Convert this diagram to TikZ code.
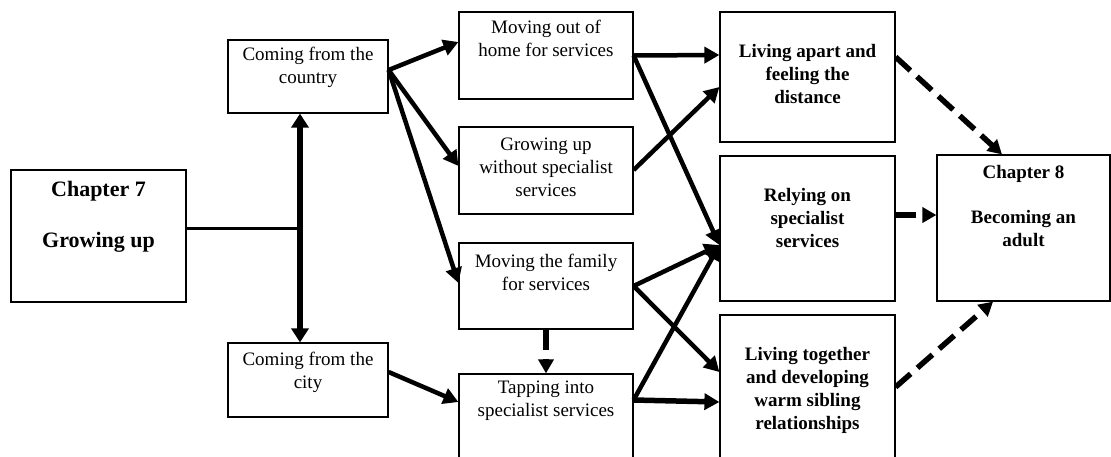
\documentclass[tikz,border=0pt]{standalone}
\usepackage{fontspec}
\setmainfont{Liberation Serif}
\usetikzlibrary{arrows.meta,fit}
\begin{document}
\begin{tikzpicture}[x=1pt,y=-1pt,
  box/.style={draw, line width=1.2pt, inner sep=0pt},
  txt/.style={align=center, inner sep=0pt, font=\fontsize{19}{23}\selectfont},
  btxt/.style={align=center, inner sep=0pt, font=\fontsize{19}{23}\selectfont\bfseries},
  flow/.style={line width=4.5pt, -{Triangle[length=15pt,width=16pt]}},
  dashflow/.style={line width=5.5pt, dash pattern=on 20pt off 9pt, -{Triangle[length=14pt,width=15pt]}},
]
\useasboundingbox (0,0) rectangle (1111,456);

% boxes
\node[box, fit={(11,170) (186,302)}] (ch7) {};
\node[box, fit={(228,40) (388,113)}] (country) {};
\node[box, fit={(228,343) (388,417)}] (city) {};
\node[box, fit={(459,12) (633,99)}] (mo) {};
\node[box, fit={(459,127) (633,214)}] (gu) {};
\node[box, fit={(459,243) (633,329)}] (mf) {};
\node[box, fit={(459,374) (633,462)}] (tap) {};
\node[box, fit={(720,12) (895,142)}] (apart) {};
\node[box, fit={(720,156) (895,301)}] (rely) {};
\node[box, fit={(720,315) (895,462)}] (together) {};
\node[box, fit={(937,155) (1110,301)}] (ch8) {};

% labels
\node[btxt, font=\fontsize{22}{25}\selectfont\bfseries] (ch7t) at (98.5,216.5) {Chapter 7\\[26pt]Growing up};
\node[txt] (countryt) at (308,67) {Coming from the\\country};
\node[txt] (cityt) at (308,372.5) {Coming from the\\city};
\node[txt] (mot) at (546,38.5) {Moving out of\\home for services};
\node[txt] (gut) at (546,167) {Growing up\\without specialist\\services};
\node[txt] (mft) at (546,272) {Moving the family\\for services};
\node[txt] (tapt) at (546,401) {Tapping into\\specialist services};
\node[btxt] (apartt) at (807.5,74) {Living apart and\\feeling the\\distance};
\node[btxt] (relyt) at (807.5,218) {Relying on\\specialist\\services};
\node[btxt] (togethert) at (807.5,390) {Living together\\and developing\\warm sibling\\relationships};
\node[btxt] (ch8t) at (1023.5,206.5) {Chapter 8\\[22pt]Becoming an\\adult};

% branching from chapter 7
\coordinate (hub) at (300,228);
\draw[line width=3pt] ([yshift=8pt]ch7.east) -- (hub);
\draw[line width=5.5pt, {Triangle[length=14pt,width=17pt]}-{Triangle[length=14pt,width=17pt]}]
  ([xshift=-8pt]country.south) -- ([xshift=-8pt]city.north);

% first column of arrows
\draw[flow] ([yshift=6.5pt]country.east) -- ([yshift=13.5pt]mo.west);
\draw[flow] ([yshift=6.5pt]country.east) -- ([yshift=4.5pt]gu.west);
\draw[flow] ([yshift=6.5pt]country.east) -- ([yshift=3pt]mf.west);
\draw[flow] ([yshift=8pt]city.east) -- ([yshift=16pt]tap.west);
\draw[dashflow] (mf.south) -- (tap.north);

% second column of arrows
\draw[flow] (mo.east) -- ([yshift=22pt]apart.west);
\draw[flow] (mo.east) -- ([yshift=-16.5pt]rely.west);
\draw[flow] ([yshift=0.5pt]gu.east) -- ([yshift=-10pt]apart.west);
\draw[flow] (mf.east) -- ([yshift=-16.5pt]rely.west);
\draw[flow] (mf.east) -- ([yshift=16.5pt]together.west);
\draw[flow] ([yshift=18pt]tap.east) -- ([yshift=-16.5pt]rely.west);
\draw[flow, line width=5.5pt] ([yshift=18pt]tap.east) -- ([yshift=-13.5pt]together.west);

% towards chapter 8
\draw[dashflow] ([yshift=20pt]apart.east) -- ([xshift=-21.5pt]ch8.north);
\draw[dashflow] ([yshift=13.5pt]rely.east) -- ([yshift=13pt]ch8.west);
\draw[dashflow] ([yshift=1.5pt]together.east) -- ([xshift=-30.5pt]ch8.south);
\end{tikzpicture}
\end{document}
